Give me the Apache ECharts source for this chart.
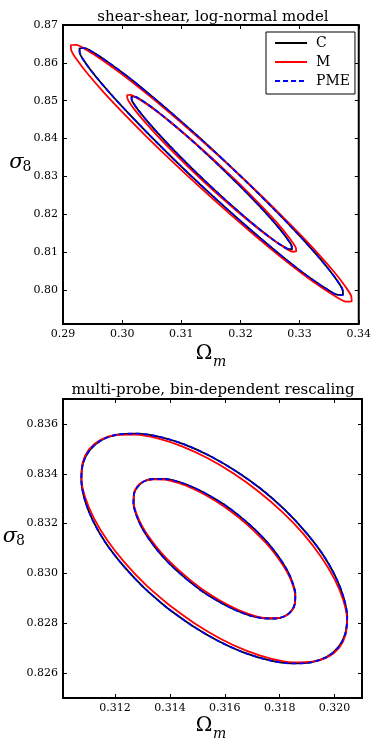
<!DOCTYPE html>
<html>
<head>
<meta charset="utf-8">
<script src="https://cdn.jsdelivr.net/npm/echarts@6/dist/echarts.min.js"></script>
<style>
  html, body { margin: 0; padding: 0; background: #fff; }
  #chart { width: 374px; height: 747px; }
</style>
</head>
<body>
<div id="chart"></div>
<script>
// contour points, [Omega_m, sigma_8]
// top panel: shear-shear, log-normal model
const cTopOuter = [[0.31699,0.83457],[0.31261,0.84086],[0.30832,0.84678],[0.30429,0.85211],[0.30068,0.85664],[0.29761,0.86019],[0.29522,0.86263],[0.29360,0.86387],[0.29279,0.86385],[0.29284,0.86258],[0.29375,0.86011],[0.29547,0.85653],[0.29795,0.85197],[0.30109,0.84663],[0.30476,0.84069],[0.30883,0.83439],[0.31313,0.82797],[0.31752,0.82168],[0.32180,0.81576],[0.32583,0.81043],[0.32944,0.80590],[0.33251,0.80235],[0.33490,0.79991],[0.33653,0.79868],[0.33733,0.79869],[0.33728,0.79996],[0.33637,0.80243],[0.33465,0.80601],[0.33217,0.81057],[0.32904,0.81591],[0.32536,0.82185],[0.32130,0.82815]];
const cTopInner = [[0.31634,0.83293],[0.31367,0.83682],[0.31106,0.84049],[0.30861,0.84379],[0.30641,0.84659],[0.30454,0.84879],[0.30308,0.85030],[0.30208,0.85107],[0.30159,0.85106],[0.30161,0.85028],[0.30216,0.84875],[0.30321,0.84654],[0.30471,0.84373],[0.30661,0.84043],[0.30884,0.83676],[0.31132,0.83286],[0.31394,0.82889],[0.31661,0.82500],[0.31922,0.82133],[0.32167,0.81803],[0.32387,0.81523],[0.32574,0.81303],[0.32720,0.81152],[0.32820,0.81075],[0.32869,0.81076],[0.32867,0.81154],[0.32812,0.81307],[0.32708,0.81528],[0.32557,0.81809],[0.32367,0.82139],[0.32144,0.82506],[0.31896,0.82896]];
const mTopOuter = [[0.31707,0.83435],[0.31240,0.84089],[0.30784,0.84705],[0.30355,0.85259],[0.29970,0.85728],[0.29644,0.86097],[0.29390,0.86349],[0.29217,0.86475],[0.29132,0.86472],[0.29138,0.86338],[0.29236,0.86079],[0.29420,0.85705],[0.29685,0.85229],[0.30020,0.84672],[0.30411,0.84053],[0.30845,0.83397],[0.31305,0.82729],[0.31772,0.82075],[0.32228,0.81459],[0.32657,0.80905],[0.33042,0.80436],[0.33368,0.80068],[0.33622,0.79815],[0.33795,0.79689],[0.33880,0.79692],[0.33874,0.79826],[0.33776,0.80085],[0.33592,0.80460],[0.33327,0.80935],[0.32992,0.81492],[0.32601,0.82111],[0.32167,0.82767]];
const mTopInner = [[0.31643,0.83306],[0.31362,0.83705],[0.31086,0.84081],[0.30828,0.84418],[0.30595,0.84704],[0.30398,0.84927],[0.30244,0.85079],[0.30138,0.85155],[0.30085,0.85151],[0.30087,0.85068],[0.30144,0.84908],[0.30254,0.84678],[0.30412,0.84387],[0.30612,0.84045],[0.30847,0.83667],[0.31107,0.83266],[0.31383,0.82858],[0.31664,0.82459],[0.31940,0.82083],[0.32198,0.81746],[0.32431,0.81461],[0.32628,0.81237],[0.32782,0.81085],[0.32888,0.81009],[0.32941,0.81013],[0.32939,0.81096],[0.32882,0.81256],[0.32772,0.81486],[0.32615,0.81777],[0.32414,0.82119],[0.32179,0.82497],[0.31919,0.82898]];
// PME sits on top of C
const pTopOuter = cTopOuter;
const pTopInner = cTopInner;

// bottom panel: multi-probe, bin-dependent rescaling
const cBotOuter = [[0.31389,0.82862],[0.31304,0.82944],[0.31229,0.83032],[0.31166,0.83122],[0.31119,0.83212],[0.31089,0.83297],[0.31077,0.83375],[0.31083,0.83442],[0.31108,0.83496],[0.31150,0.83535],[0.31208,0.83557],[0.31279,0.83561],[0.31362,0.83548],[0.31452,0.83518],[0.31546,0.83471],[0.31641,0.83410],[0.31733,0.83338],[0.31818,0.83256],[0.31893,0.83168],[0.31956,0.83078],[0.32003,0.82988],[0.32033,0.82903],[0.32046,0.82825],[0.32039,0.82758],[0.32014,0.82704],[0.31972,0.82665],[0.31914,0.82643],[0.31843,0.82639],[0.31760,0.82652],[0.31670,0.82682],[0.31576,0.82729],[0.31481,0.82790]];
const cBotInner = [[0.31467,0.82971],[0.31414,0.83022],[0.31367,0.83076],[0.31328,0.83131],[0.31297,0.83185],[0.31277,0.83236],[0.31267,0.83281],[0.31269,0.83320],[0.31283,0.83349],[0.31306,0.83370],[0.31340,0.83379],[0.31382,0.83379],[0.31432,0.83367],[0.31486,0.83345],[0.31543,0.83313],[0.31601,0.83274],[0.31657,0.83227],[0.31710,0.83176],[0.31757,0.83122],[0.31796,0.83067],[0.31827,0.83013],[0.31847,0.82962],[0.31857,0.82917],[0.31855,0.82878],[0.31842,0.82849],[0.31818,0.82828],[0.31784,0.82819],[0.31742,0.82820],[0.31692,0.82831],[0.31638,0.82853],[0.31581,0.82885],[0.31523,0.82924]];
const mBotOuter = [[0.31397,0.82873],[0.31311,0.82955],[0.31235,0.83043],[0.31172,0.83132],[0.31123,0.83221],[0.31091,0.83305],[0.31077,0.83381],[0.31082,0.83446],[0.31105,0.83498],[0.31146,0.83535],[0.31203,0.83555],[0.31273,0.83557],[0.31355,0.83542],[0.31444,0.83510],[0.31538,0.83462],[0.31633,0.83400],[0.31725,0.83327],[0.31811,0.83245],[0.31887,0.83158],[0.31950,0.83068],[0.31999,0.82979],[0.32031,0.82895],[0.32045,0.82819],[0.32040,0.82754],[0.32017,0.82702],[0.31976,0.82665],[0.31919,0.82646],[0.31849,0.82643],[0.31767,0.82658],[0.31678,0.82690],[0.31584,0.82738],[0.31489,0.82800]];
const mBotInner = [[0.31471,0.82976],[0.31418,0.83027],[0.31370,0.83081],[0.31330,0.83136],[0.31299,0.83189],[0.31278,0.83239],[0.31268,0.83284],[0.31269,0.83321],[0.31281,0.83350],[0.31305,0.83370],[0.31338,0.83378],[0.31380,0.83377],[0.31428,0.83364],[0.31482,0.83341],[0.31539,0.83309],[0.31597,0.83269],[0.31653,0.83222],[0.31706,0.83171],[0.31754,0.83117],[0.31794,0.83062],[0.31825,0.83009],[0.31846,0.82959],[0.31856,0.82914],[0.31855,0.82877],[0.31843,0.82848],[0.31819,0.82828],[0.31786,0.82820],[0.31744,0.82821],[0.31696,0.82834],[0.31642,0.82857],[0.31585,0.82889],[0.31527,0.82929]];
const pBotOuter = cBotOuter;
const pBotInner = cBotInner;

// ticks
const topXTicks = [0.29, 0.30, 0.31, 0.32, 0.33, 0.34];
const topYTicks = [0.80, 0.81, 0.82, 0.83, 0.84, 0.85, 0.86, 0.87];
const botXTicks = [0.312, 0.314, 0.316, 0.318, 0.320];
const botYTicks = [0.826, 0.828, 0.830, 0.832, 0.834, 0.836];

const titles = ['shear-shear, log-normal model', 'multi-probe, bin-dependent rescaling'];

const chart = echarts.init(document.getElementById('chart'));
const FONT = 'DejaVu Serif';

function closed(pts) {
  return pts.concat([pts[0]]);
}

function axis(grid, pos, min, max, ticks, digits, showLabel) {
  return {
    type: 'value',
    gridIndex: grid,
    position: pos,
    min: min,
    max: max,
    axisLine: { show: false },
    splitLine: { show: false },
    axisTick: {
      show: true,
      inside: true,
      length: 4,
      customValues: ticks,
      lineStyle: { color: '#000', width: 1 },
    },
    axisLabel: {
      show: showLabel,
      customValues: ticks,
      margin: 5,
      color: '#000',
      fontFamily: FONT,
      fontSize: 11,
      formatter: (v) => v.toFixed(digits),
    },
  };
}

function contour(name, data, color, dashed, xi) {
  return {
    name: name,
    type: 'line',
    xAxisIndex: xi,
    yAxisIndex: xi,
    data: closed(data),
    smooth: 0.3,
    symbol: 'none',
    showSymbol: false,
    silent: true,
    lineStyle: { color: color, width: 1.8, type: dashed ? [5, 3] : 'solid' },
    itemStyle: { color: color },
  };
}

const series = [
  contour('C', cTopOuter, '#000000', false, 0),
  contour('C', cTopInner, '#000000', false, 0),
  contour('M', mTopOuter, '#ff0000', false, 0),
  contour('M', mTopInner, '#ff0000', false, 0),
  contour('PME', pTopOuter, '#0000ff', true, 0),
  contour('PME', pTopInner, '#0000ff', true, 0),
  contour('C', cBotOuter, '#000000', false, 2),
  contour('C', cBotInner, '#000000', false, 2),
  contour('M', mBotOuter, '#ff0000', false, 2),
  contour('M', mBotInner, '#ff0000', false, 2),
  contour('PME', pBotOuter, '#0000ff', true, 2),
  contour('PME', pBotInner, '#0000ff', true, 2),
];

function txt(text, x, y, size, style, align) {
  return {
    type: 'text',
    x: x,
    y: y,
    silent: true,
    style: {
      text: text,
      fill: '#000',
      font: (style || 'normal') + ' ' + size + 'px "' + FONT + '"',
      textAlign: align || 'center',
      textVerticalAlign: 'middle',
    },
  };
}

const option = {
  backgroundColor: '#fff',
  animation: false,
  grid: [
    { left: 63, top: 25, width: 299, height: 299, show: true, borderColor: '#000', borderWidth: 2, backgroundColor: 'transparent' },
    { left: 63, top: 399, width: 299, height: 299, show: true, borderColor: '#000', borderWidth: 2, backgroundColor: 'transparent' },
  ],
  xAxis: [
    axis(0, 'bottom', 0.29, 0.34, topXTicks, 2, true),
    axis(0, 'top', 0.29, 0.34, topXTicks, 2, false),
    axis(1, 'bottom', 0.3101, 0.3210, botXTicks, 3, true),
    axis(1, 'top', 0.3101, 0.3210, botXTicks, 3, false),
  ],
  yAxis: [
    axis(0, 'left', 0.791, 0.87, topYTicks, 2, true),
    axis(0, 'right', 0.791, 0.87, topYTicks, 2, false),
    axis(1, 'left', 0.825, 0.837, botYTicks, 3, true),
    axis(1, 'right', 0.825, 0.837, botYTicks, 3, false),
  ],
  legend: {
    data: ['C', 'M', 'PME'],
    orient: 'vertical',
    left: 266,
    top: 32,
    padding: [4, 5, 6, 8],
    itemWidth: 32,
    itemHeight: 14,
    itemGap: 5,
    borderColor: '#000',
    borderWidth: 1,
    backgroundColor: '#fff',
    selectedMode: false,
    itemStyle: { opacity: 0 },
    textStyle: { fontFamily: FONT, fontSize: 14, color: '#000', padding: [0, 0, 0, 4] },
  },
  graphic: [
    txt(titles[0], 213, 17.5, 15),
    txt(titles[1], 213, 390.5, 15),
    txt('Ω', 204, 354, 20),
    txt('m', 213, 362, 14, 'italic', 'left'),
    txt('Ω', 204, 725.5, 20),
    txt('m', 213, 734, 14, 'italic', 'left'),
    txt('σ', 16.5, 163, 21, 'italic'),
    txt('8', 22.5, 167.5, 14, 'normal', 'left'),
    txt('σ', 10, 536.5, 21, 'italic'),
    txt('8', 16, 541.5, 14, 'normal', 'left'),
  ],
  series: series,
};

chart.setOption(option);
</script>
</body>
</html>
